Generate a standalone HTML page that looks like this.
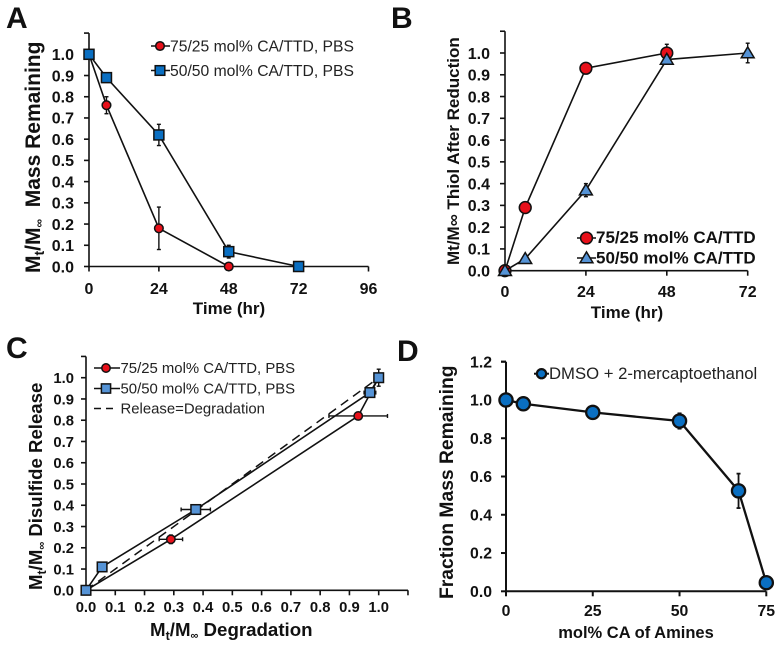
<!DOCTYPE html>
<html>
<head>
<meta charset="utf-8">
<style>
html,body{margin:0;padding:0;background:#fff;width:780px;height:646px;overflow:hidden}
svg{display:block;font-family:"Liberation Sans",sans-serif}
</style>
</head>
<body>
<svg id="fig" xmlns="http://www.w3.org/2000/svg" width="780" height="646" viewBox="0 0 780 646">
  <text x="6" y="28" font-size="30" font-weight="700" fill="#111">A</text>
  <text x="391" y="28" font-size="30" font-weight="700" fill="#111">B</text>
  <text x="6" y="358" font-size="30" font-weight="700" fill="#111">C</text>
  <text x="397" y="361" font-size="30" font-weight="700" fill="#111">D</text>

  <text transform="translate(40,273) rotate(-90)" font-size="21" font-weight="700" fill="#111">M<tspan font-size="14" dy="4">t</tspan><tspan dy="-4">/M</tspan><tspan font-size="12" dy="3">∞</tspan><tspan dy="-3" xml:space="preserve">  Mass Remaining</tspan></text>
  <text x="229" y="314" text-anchor="middle" font-size="17" font-weight="700" fill="#111">Time (hr)</text>

  <text transform="translate(459,265) rotate(-90)" font-size="17" font-weight="700" fill="#111">Mt/M∞ Thiol After Reduction</text>
  <text x="627" y="318" text-anchor="middle" font-size="17" font-weight="700" fill="#111">Time (hr)</text>

  <text transform="translate(42,590) rotate(-90)" font-size="18.6" font-weight="700" fill="#111">M<tspan font-size="12.5" dy="4">t</tspan><tspan dy="-4">/M</tspan><tspan font-size="11" dy="3">∞</tspan><tspan dy="-3"> Disulfide Release</tspan></text>
  <text x="150" y="636" font-size="18.7" font-weight="700" fill="#111">M<tspan font-size="12.5" dy="4">t</tspan><tspan dy="-4">/M</tspan><tspan font-size="11" dy="3">∞</tspan><tspan dy="-3"> Degradation</tspan></text>

  <text transform="translate(453,599) rotate(-90)" font-size="19.3" font-weight="700" fill="#111">Fraction Mass Remaining</text>
  <text x="636" y="638" text-anchor="middle" font-size="16.5" font-weight="700" fill="#111">mol% CA of Amines</text>

  <g id="layer"></g>
</svg>
<script>
// Panel A data
const aTime1 = [0, 6, 24, 48];
const aMass1 = [1, 0.76, 0.18, 0];
const aErr1 = [0, 0.04, 0.1, 0];
const aTime2 = [0, 6, 24, 48, 72];
const aMass2 = [1, 0.89, 0.62, 0.07, 0];
const aErr2 = [0, 0, 0.05, 0.03, 0];
const aXTicks = [0, 24, 48, 72, 96];
const aYTicks = [0, 0.1, 0.2, 0.3, 0.4, 0.5, 0.6, 0.7, 0.8, 0.9, 1.0];

// Panel B data
const bTime1 = [0, 6, 24, 48];
const bThiol1 = [0, 0.29, 0.93, 1];
const bErr1 = [0, 0, 0, 0.04];
const bTime2 = [0, 6, 24, 48, 72];
const bThiol2 = [0, 0.055, 0.37, 0.97, 1];
const bErr2 = [0, 0, 0.03, 0.02, 0.045];
const bXTicks = [0, 24, 48, 72];
const bYTicks = [0, 0.1, 0.2, 0.3, 0.4, 0.5, 0.6, 0.7, 0.8, 0.9, 1.0];

// Panel C data
const cDeg1 = [0, 0.29, 0.93, 1];
const cRel1 = [0, 0.24, 0.82, 1];
const cXErr1 = [0, 0.04, 0.1, 0];
const cYErr1 = [0, 0.02, 0, 0];
const cDeg2 = [0, 0.055, 0.375, 0.97, 1];
const cRel2 = [0, 0.11, 0.38, 0.93, 1];
const cXErr2 = [0, 0, 0.05, 0.02, 0];
const cYErr2 = [0, 0, 0.02, 0, 0.04];
const cRefX = [0, 1];
const cRefY = [0, 1];
const cXTicks = [0, 0.1, 0.2, 0.3, 0.4, 0.5, 0.6, 0.7, 0.8, 0.9, 1.0];
const cYTicks = [0, 0.1, 0.2, 0.3, 0.4, 0.5, 0.6, 0.7, 0.8, 0.9, 1.0];

// Panel D data
const dCA = [0, 5, 25, 50, 67, 75];
const dMass = [1, 0.98, 0.935, 0.89, 0.525, 0.045];
const dErr = [0, 0, 0, 0.04, 0.09, 0];
const dXTicks = [0, 25, 50, 75];
const dYTicks = [0, 0.2, 0.4, 0.6, 0.8, 1.0, 1.2];

const INK = '#111';
const RED = '#e8101a';
const BLUE = '#0a6fc2';
const LIGHT = '#5593d6';
const NS = 'http://www.w3.org/2000/svg';
const layer = document.getElementById('layer');

function make(tag, attrs, parent) {
  const el = document.createElementNS(NS, tag);
  for (const k in attrs) el.setAttribute(k, attrs[k]);
  (parent || layer).appendChild(el);
  return el;
}
function scale(d0, d1, p0, p1) {
  return v => p0 + (v - d0) / (d1 - d0) * (p1 - p0);
}
function line(x1, y1, x2, y2, w, parent) {
  return make('line', {x1, y1, x2, y2, stroke: INK, 'stroke-width': w}, parent);
}
function marker(kind, cx, cy, size, fill, sw, parent) {
  let el;
  if (kind === 'circle') {
    el = make('circle', {cx, cy, r: size, fill, stroke: INK, 'stroke-width': sw}, parent);
  } else if (kind === 'square') {
    el = make('rect', {x: cx - size, y: cy - size, width: 2 * size, height: 2 * size, fill, stroke: INK, 'stroke-width': sw}, parent);
  } else {
    const pts = [[cx, cy - size * 1.1], [cx + size * 1.15, cy + size * 0.85], [cx - size * 1.15, cy + size * 0.85]];
    el = make('polygon', {points: pts.map(p => p.join(',')).join(' '), fill, stroke: INK, 'stroke-width': sw}, parent);
  }
  return el;
}
function axes(panel, sx, sy, xTicks, yTicks, xFmt, yFmt, o) {
  const g = make('g', {});
  
  
  line(sx(o.xMin), sy(o.yMin), sx(o.xMax), sy(o.yMin), o.w, g);
  line(sx(o.xMin), sy(o.yMin) + (o.w / 2), sx(o.xMin), sy(o.yMax), o.w, g);
  line(sx(o.xMin) - o.tick, sy(o.yMax), sx(o.xMin), sy(o.yMax), o.w, g);
  if (o.xEndTick) line(sx(o.xMax), sy(o.yMin), sx(o.xMax), sy(o.yMin) + o.tick, o.w, g);
  xTicks.forEach(t => {
    line(sx(t), sy(o.yMin), sx(t), sy(o.yMin) + o.tick, o.w, g);
    const label = make('text', {x: sx(t), y: o.xLabelY, 'text-anchor': 'middle', 'font-size': o.font, 'font-weight': 700, fill: INK}, g);
    
    
    label.textContent = xFmt(t);
  });
  yTicks.forEach(t => {
    line(sx(o.xMin) - o.tick, sy(t), sx(o.xMin), sy(t), o.w, g);
    const label = make('text', {x: o.yLabelX, y: sy(t) + o.font * 0.36, 'text-anchor': 'end', 'font-size': o.font, 'font-weight': 700, fill: INK}, g);
    
    
    label.textContent = yFmt(t);
  });
}
function series(name, sx, sy, xs, ys, o) {
  const g = make('g', {});
  
  
  const pts = xs.map((x, i) => sx(x) + ',' + sy(ys[i])).join(' ');
  make('polyline', {points: pts, fill: 'none', stroke: INK, 'stroke-width': o.w, 'stroke-dasharray': o.dash || 'none'}, g);
  if (o.yErr) {
    xs.forEach((x, i) => {
      const e = o.yErr[i];
      if (!e) return;
      line(sx(x), sy(ys[i] - e), sx(x), sy(ys[i] + e), o.errW, g);
      line(sx(x) - 2, sy(ys[i] - e), sx(x) + 2, sy(ys[i] - e), o.errW, g);
      line(sx(x) - 2, sy(ys[i] + e), sx(x) + 2, sy(ys[i] + e), o.errW, g);
    });
  }
  if (o.xErr) {
    xs.forEach((x, i) => {
      const e = o.xErr[i];
      if (!e) return;
      line(sx(x - e), sy(ys[i]), sx(x + e), sy(ys[i]), o.errW, g);
      line(sx(x - e), sy(ys[i]) - 2, sx(x - e), sy(ys[i]) + 2, o.errW, g);
      line(sx(x + e), sy(ys[i]) - 2, sx(x + e), sy(ys[i]) + 2, o.errW, g);
    });
  }
  if (o.kind) {
    xs.forEach((x, i) => {
      const m = marker(o.kind, sx(x), sy(ys[i]), o.size, o.fill, o.sw, g);
      
      
    });
  }
}
function legend(name, x0, x1, xm, ym, tx, ty, label, o) {
  const g = make('g', {});
  
  
  make('line', {x1: x0, y1: ym, x2: x1, y2: ym, stroke: INK, 'stroke-width': o.w, 'stroke-dasharray': o.dash || 'none'}, g);
  if (o.kind) marker(o.kind, xm, ym, o.size, o.fill, o.sw, g);
  const t = make('text', {x: tx, y: ty, 'font-size': o.font, 'font-weight': o.weight || 400, fill: o.color || '#222'}, g);
  t.textContent = label;
}
const f1 = v => v.toFixed(1);
const f0 = v => String(v);

// Panel A
{
  const sx = scale(0, 96, 89, 368.5);
  const sy = scale(0, 1, 266.5, 54.3);
  axes('panel-a', sx, sy, aXTicks, aYTicks, f0, f1, {xMin: 0, xMax: 96, yMin: 0, yMax: 1.1, w: 1.6, tick: 5, font: 16, xLabelY: 294, yLabelX: 74});
  series('panel-a-series-75-25', sx, sy, aTime1, aMass1, {w: 1.6, errW: 1.4, yErr: aErr1, kind: 'circle', size: 4.3, fill: RED, sw: 1.5});
  series('panel-a-series-50-50', sx, sy, aTime2, aMass2, {w: 1.6, errW: 1.4, yErr: aErr2, kind: 'square', size: 5, fill: BLUE, sw: 1.5});
  legend('panel-a-legend-75-25', 151, 170, 160, 46, 170, 51.5, '75/25 mol% CA/TTD, PBS', {w: 1.6, kind: 'circle', size: 4.3, fill: RED, sw: 1.5, font: 15.7});
  legend('panel-a-legend-50-50', 151, 170, 160, 70.5, 170, 76, '50/50 mol% CA/TTD, PBS', {w: 1.6, kind: 'square', size: 4.8, fill: BLUE, sw: 1.5, font: 15.7});
}
// Panel B
{
  const sx = scale(0, 72, 505, 747.7);
  const sy = scale(0, 1, 270.7, 53);
  axes('panel-b', sx, sy, bXTicks, bYTicks, f0, f1, {xMin: 0, xMax: 72, yMin: 0, yMax: 1.1, w: 1.6, tick: 5, font: 16, xLabelY: 297, yLabelX: 490});
  series('panel-b-series-75-25', sx, sy, bTime1, bThiol1, {w: 1.6, errW: 1.4, yErr: bErr1, kind: 'circle', size: 5.9, fill: RED, sw: 1.5});
  series('panel-b-series-50-50', sx, sy, bTime2, bThiol2, {w: 1.6, errW: 1.4, yErr: bErr2, kind: 'triangle', size: 5.6, fill: LIGHT, sw: 1.5});
  legend('panel-b-legend-75-25', 577, 596, 586.5, 238, 596, 243, '75/25 mol% CA/TTD', {w: 1.6, kind: 'circle', size: 5.9, fill: RED, sw: 1.5, font: 17, weight: 700, color: INK});
  legend('panel-b-legend-50-50', 577, 596, 586.5, 258, 596, 263.5, '50/50 mol% CA/TTD', {w: 1.6, kind: 'triangle', size: 5.6, fill: LIGHT, sw: 1.5, font: 17, weight: 700, color: INK});
}
// Panel C
{
  const sx = scale(0, 1, 86, 378.7);
  const sy = scale(0, 1, 590.3, 377.7);
  axes('panel-c', sx, sy, cXTicks, cYTicks, f1, f1, {xMin: 0, xMax: 1.1, yMin: 0, yMax: 1.1, w: 1.6, tick: 5, font: 14.8, xLabelY: 612, yLabelX: 74, xEndTick: true});
  series('panel-c-reference-line', sx, sy, cRefX, cRefY, {w: 1.5, dash: '9 6'});
  series('panel-c-series-75-25', sx, sy, cDeg1, cRel1, {w: 1.6, errW: 1.4, xErr: cXErr1, yErr: cYErr1, kind: 'circle', size: 4.2, fill: RED, sw: 1.5});
  series('panel-c-series-50-50', sx, sy, cDeg2, cRel2, {w: 1.6, errW: 1.4, xErr: cXErr2, yErr: cYErr2, kind: 'square', size: 4.8, fill: LIGHT, sw: 1.5});
  legend('panel-c-legend-75-25', 94, 120, 106, 368, 120.5, 372.8, '75/25 mol% CA/TTD, PBS', {w: 1.6, kind: 'circle', size: 4.2, fill: RED, sw: 1.5, font: 14.9});
  legend('panel-c-legend-50-50', 94, 120, 106, 388.5, 120.5, 393.5, '50/50 mol% CA/TTD, PBS', {w: 1.6, kind: 'square', size: 4.6, fill: LIGHT, sw: 1.5, font: 14.9});
  legend('panel-c-legend-reference', 94, 115, 0, 408.5, 120.5, 413.5, 'Release=Degradation', {w: 1.5, dash: '7 5', font: 14.9});
}
// Panel D
{
  const sx = scale(0, 75, 506, 766.3);
  const sy = scale(0, 1.2, 591.3, 361.7);
  axes('panel-d', sx, sy, dXTicks, dYTicks, f0, f1, {xMin: 0, xMax: 75, yMin: 0, yMax: 1.2, w: 2, tick: 5, font: 15.8, xLabelY: 616, yLabelX: 492});
  series('panel-d-series-dmso', sx, sy, dCA, dMass, {w: 2.3, errW: 1.8, yErr: dErr, kind: 'circle', size: 6.6, fill: BLUE, sw: 2.3});
  legend('panel-d-legend-dmso', 534, 549, 541.5, 373.7, 549, 379, 'DMSO + 2-mercaptoethanol', {w: 2, kind: 'circle', size: 4.6, fill: BLUE, sw: 2.2, font: 16.7});
}
</script>
</body>
</html>
